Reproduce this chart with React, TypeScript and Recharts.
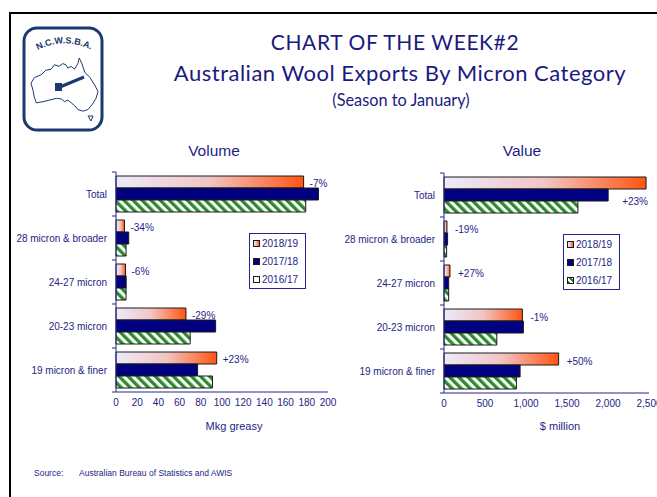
import React from "react";
import { BarChart, Bar, XAxis, YAxis, Legend, LabelList } from "recharts";

// categories and values
const categories = [
  "Total",
  "28 micron & broader",
  "24-27 micron",
  "20-23 micron",
  "19 micron & finer",
];
const seasons = ["2018/19", "2017/18", "2016/17"];

// Volume, Mkg greasy
const volume1819 = [177, 8, 9, 66, 95];
const volume1718 = [191, 12, 9.6, 94, 77];
const volume1617 = [179, 9.5, 9.5, 70, 91];
const volumeChange = ["-7%", "-34%", "-6%", "-29%", "+23%"];
const volumeTicks = [0, 20, 40, 60, 80, 100, 120, 140, 160, 180, 200];

// Value, $ million
const value1819 = [2464, 36, 73, 956, 1398];
const value1718 = [2002, 44, 57, 968, 928];
const value1617 = [1633, 32, 57, 644, 883];
const valueChange = ["+23%", "-19%", "+27%", "-1%", "+50%"];
const valueTicks = [0, 500, 1000, 1500, 2000, 2500];

const TEXT = "#1e1e86";
const AXIS = "#25258f";
const NAVY = "#000080";
const GREEN = "#2b8a2b";
const EDGE = "#1a1a1a";
const ARIAL = "'Liberation Sans', Arial, sans-serif";
const PLOT_H = 220;
const BAND = PLOT_H / categories.length;

const volumeRows = categories.map((name, i) => ({
  name,
  a: volume1819[i],
  b: volume1718[i],
  c: volume1617[i],
  chg: volumeChange[i],
}));

// the Total change label sits beside the 2017/18 bar on the value chart
const valueRows = categories.map((name, i) => ({
  name,
  a: value1819[i],
  b: value1718[i],
  c: value1617[i],
  chgA: i === 0 ? "" : valueChange[i],
  chgB: i === 0 ? valueChange[i] : "",
}));

function CategoryTick({ y, payload, index, axisX }: any) {
  return (
    <g>
      <text
        x={axisX - 9}
        y={y}
        textAnchor="end"
        dominantBaseline="central"
        fontSize={10}
        fontFamily={ARIAL}
        fill={TEXT}
      >
        {payload.value}
      </text>
      <line x1={axisX - 4} x2={axisX} y1={y - BAND / 2} y2={y - BAND / 2} stroke={AXIS} />
      {index === categories.length - 1 && (
        <line x1={axisX - 4} x2={axisX} y1={y + BAND / 2} y2={y + BAND / 2} stroke={AXIS} />
      )}
    </g>
  );
}

const pctLabel = (dx: number, dy: number) => (props: any) => {
  const { x, y, width, height, value } = props;
  if (!value) return null;
  return (
    <text
      x={Number(x) + Number(width) + dx}
      y={Number(y) + Number(height) / 2 + dy}
      dominantBaseline="central"
      fontSize={10}
      fontFamily={ARIAL}
      fill={TEXT}
    >
      {value}
    </text>
  );
};

function LegendBox({ stripes }: { stripes: boolean }) {
  const icons = [
    "linear-gradient(90deg, #ecebfa, #f3b4aa, #ff5a18)",
    NAVY,
    stripes
      ? `repeating-linear-gradient(45deg, ${GREEN} 0 2px, #fff 2px 4px)`
      : "#fff",
  ];
  return (
    <div
      style={{
        border: `1px solid ${AXIS}`,
        background: "#fff",
        padding: "0 3px",
        width: 57,
        boxSizing: "border-box",
        fontFamily: ARIAL,
        fontSize: 10,
        color: TEXT,
      }}
    >
      {seasons.map((s, i) => (
        <div key={s} style={{ height: 18, display: "flex", alignItems: "center" }}>
          <span
            style={{
              width: 5,
              height: 5,
              border: `1px solid ${EDGE}`,
              background: icons[i],
              marginRight: 2,
              display: "inline-block",
            }}
          />
          {s}
        </div>
      ))}
    </div>
  );
}

function Defs({ id }: { id: string }) {
  return (
    <defs>
      <linearGradient id={`grad-${id}`} x1="0" y1="0" x2="1" y2="0">
        <stop offset="0%" stopColor="#ecebfa" />
        <stop offset="50%" stopColor="#f1c5c4" />
        <stop offset="100%" stopColor="#ff5512" />
      </linearGradient>
      <pattern
        id={`stripe-${id}`}
        width="6.4"
        height="6.4"
        patternUnits="userSpaceOnUse"
        patternTransform="rotate(-45)"
      >
        <rect width="6.4" height="6.4" fill="#fff" />
        <rect width="3.3" height="6.4" fill={GREEN} />
      </pattern>
    </defs>
  );
}

function Logo() {
  // rough outline of the association badge
  const aus =
    "M0 45 L5 35 L15 30 L22 22 L30 20 L35 12 L42 15 L47 10 L52 12 L55 18 L60 15 L65 20 L70 10 L72 0 L76 10 L80 25 L88 35 L95 48 L100 60 L97 72 L92 82 L85 92 L78 95 L70 92 L65 85 L60 80 L55 75 L50 78 L45 73 L38 72 L28 75 L18 78 L8 80 L5 70 L3 58 Z";
  return (
    <svg width={120} height={140} style={{ position: "absolute", left: 0, top: 0 }}>
      <rect x={24} y={28} width={78} height={102} rx={13} fill="#fff" stroke="#1b3a70" strokeWidth={3} />
      <path id="logoArc" d="M30 55 Q63 32 99 54" fill="none" />
      <text fontSize={9} fontWeight="bold" fontFamily={ARIAL} fill="#1b3a70">
        <textPath href="#logoArc" startOffset="50%" textAnchor="middle">
          N.C.W.S.B.A.
        </textPath>
      </text>
      <path
        d={aus}
        transform="translate(31 58) scale(0.67 0.56)"
        fill="none"
        stroke="#1b3a70"
        strokeWidth={1}
        vectorEffect="non-scaling-stroke"
      />
      <line x1={60} y1={87} x2={84} y2={77} stroke="#1b3a70" strokeWidth={3} />
      <rect x={55} y={83} width={7} height={8} fill="#1b3a70" />
      <path d="M88 116 L93 116 L91 121 Z" fill="none" stroke="#1b3a70" />
    </svg>
  );
}

function MicronChart({
  rows,
  id,
  max,
  ticks,
  yWidth,
  width,
  right,
  legendLeft,
  stripes,
  format,
  value,
}: any) {
  return (
    <BarChart
      width={width}
      height={260}
      data={rows}
      layout="vertical"
      margin={{ top: 12, right, left: 0, bottom: 0 }}
      barCategoryGap={4}
      barGap={0}
    >
      <Defs id={id} />
      <XAxis
        type="number"
        domain={[0, max]}
        ticks={ticks}
        interval={0}
        tickFormatter={format}
        tick={{ fontSize: 10, fill: TEXT, fontFamily: ARIAL }}
        axisLine={{ stroke: AXIS }}
        tickLine={false}
        tickSize={4}
        tickMargin={3}
        height={28}
      />
      <XAxis
        xAxisId="top"
        orientation="top"
        type="number"
        domain={[0, max]}
        tick={false}
        tickLine={false}
        axisLine={{ stroke: AXIS }}
        height={0}
      />
      <YAxis
        type="category"
        dataKey="name"
        width={yWidth}
        interval={0}
        axisLine={{ stroke: AXIS }}
        tickLine={false}
        tick={<CategoryTick axisX={yWidth} />}
      />
      <YAxis
        yAxisId="right"
        orientation="right"
        type="category"
        dataKey="name"
        width={0}
        tick={false}
        tickLine={false}
        axisLine={{ stroke: AXIS }}
      />
      <Legend
        layout="vertical"
        align="center"
        verticalAlign="middle"
        wrapperStyle={{ left: legendLeft, top: 73, width: 57 }}
        content={() => <LegendBox stripes={stripes} />}
      />
      <Bar dataKey="a" fill={`url(#grad-${id})`} stroke={EDGE} strokeWidth={1} isAnimationActive={false}>
        {value ? (
          <LabelList dataKey="chgA" content={pctLabel(8, 2)} />
        ) : (
          <LabelList dataKey="chg" content={pctLabel(6, 1)} />
        )}
      </Bar>
      <Bar dataKey="b" fill={NAVY} stroke={EDGE} strokeWidth={1} isAnimationActive={false}>
        {value && <LabelList dataKey="chgB" content={pctLabel(14, 6)} />}
      </Bar>
      <Bar dataKey="c" fill={`url(#stripe-${id})`} stroke={EDGE} strokeWidth={1} isAnimationActive={false} />
    </BarChart>
  );
}

const abs = (left: number, top: number, extra: any = {}) => ({
  position: "absolute" as const,
  left,
  top,
  ...extra,
});

export default function App() {
  return (
    <div
      style={{
        position: "fixed",
        left: 0,
        top: 0,
        width: 657,
        height: 497,
        overflow: "hidden",
        background: "#fff",
        fontFamily: ARIAL,
      }}
    >
      <div
        style={abs(9, 12, {
          width: 720,
          height: 600,
          borderLeft: "2px solid #000",
          borderTop: "2px solid #000",
        })}
      />
      <Logo />

      <div
        style={abs(145, 0, {
          width: 500,
          textAlign: "center",
          whiteSpace: "nowrap",
          fontFamily: "Lato, sans-serif",
          color: "#1a1a7e",
        })}
      >
        <div style={{ position: "absolute", top: 29, width: "100%", fontSize: 21, letterSpacing: 0.6, lineHeight: "26px" }}>
          CHART OF THE WEEK#2
        </div>
        <div style={{ position: "absolute", top: 60, left: 5, width: "100%", fontSize: 22, letterSpacing: 0.5, lineHeight: "26px" }}>
          Australian Wool Exports By Micron Category
        </div>
        <div style={{ position: "absolute", top: 89, left: 6, width: "100%", fontSize: 16.3, lineHeight: "22px" }}>
          (Season to January)
        </div>
      </div>

      <div style={abs(134, 142, { width: 160, textAlign: "center", fontSize: 15.5, color: TEXT })}>Volume</div>
      <div style={abs(442, 142, { width: 160, textAlign: "center", fontSize: 15.5, color: TEXT })}>Value</div>

      <div style={abs(0, 160)}>
        <MicronChart
          rows={volumeRows}
          id="vol"
          max={200}
          ticks={volumeTicks}
          yWidth={116}
          width={340}
          right={12}
          legendLeft={249}
          stripes={false}
          format={(v: number) => String(v)}
          value={false}
        />
      </div>
      <div style={abs(340, 161)}>
        <MicronChart
          rows={valueRows}
          id="val"
          max={2500}
          ticks={valueTicks}
          yWidth={104}
          width={330}
          right={21}
          legendLeft={223}
          stripes={true}
          format={(v: number) => v.toLocaleString("en-US")}
          value={true}
        />
      </div>

      <div style={abs(174, 420, { width: 120, textAlign: "center", fontSize: 11, color: TEXT })}>Mkg greasy</div>
      <div style={abs(500, 420, { width: 120, textAlign: "center", fontSize: 11, color: TEXT })}>$ million</div>

      <div style={abs(34, 468, { fontSize: 8.5, color: TEXT })}>Source:</div>
      <div style={abs(79, 468, { fontSize: 8.5, color: TEXT })}>Australian Bureau of Statistics and AWIS</div>
    </div>
  );
}
